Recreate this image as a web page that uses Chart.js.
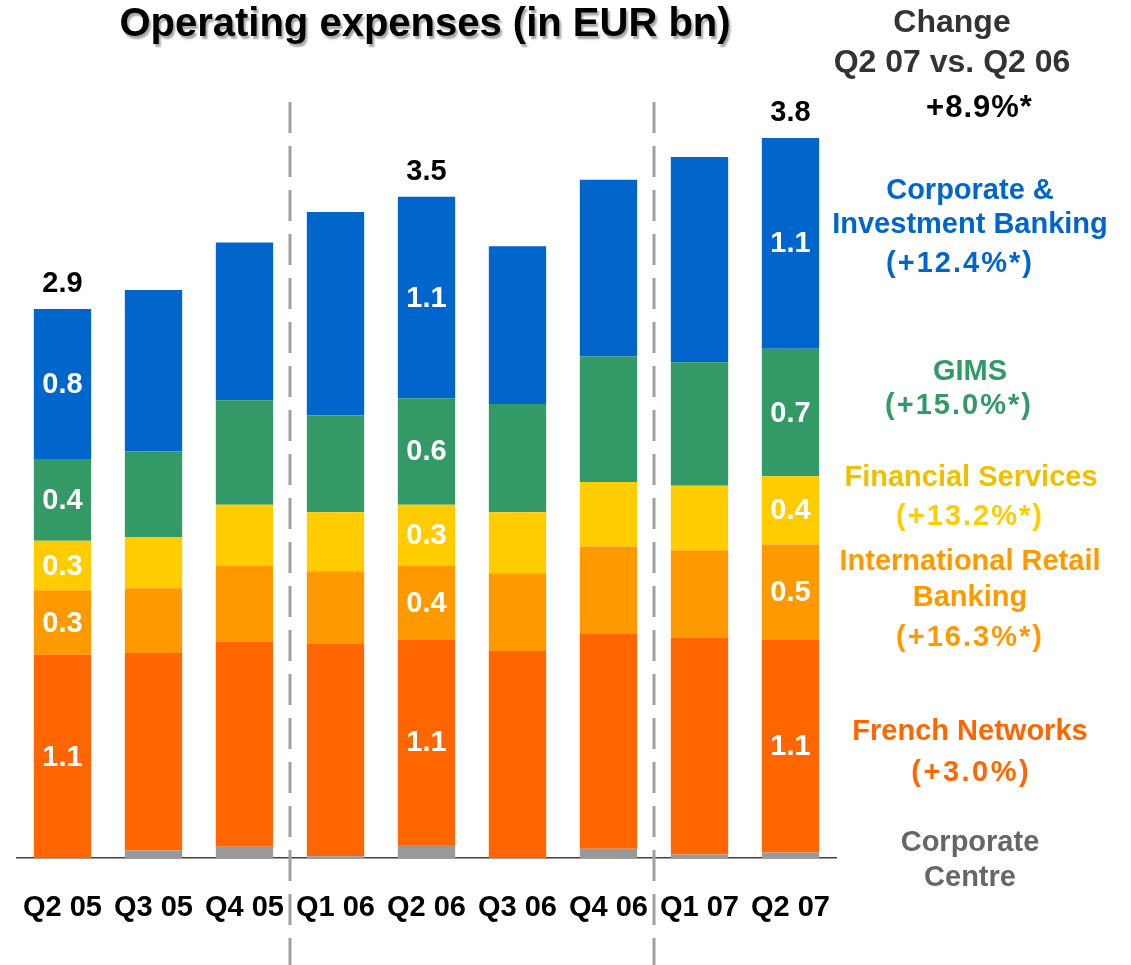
<!DOCTYPE html>
<html>
<head>
<meta charset="utf-8">
<script src="https://cdn.jsdelivr.net/npm/chart.js@4.4.1/dist/chart.umd.min.js"></script>
<style>
  body { margin: 0; background: #fff; }
  #wrap { width: 1131px; height: 965px; position: relative; }
</style>
</head>
<body>
<div id="wrap"><canvas id="opex" width="1131" height="965"></canvas></div>
<script>
// quarters on the x axis
const quarters = ["Q2 05", "Q3 05", "Q4 05", "Q1 06", "Q2 06", "Q3 06", "Q4 06", "Q1 07", "Q2 07"];

// Operating expenses by business line, EUR bn (stacked bottom to top)
const corporateCentre = [0.00, 0.04, 0.06, 0.01, 0.07, 0.00, 0.05, 0.02, 0.03];
const frenchNetworks = [1.07, 1.04, 1.08, 1.12, 1.08, 1.09, 1.13, 1.14, 1.12];
const intlRetail = [0.34, 0.34, 0.40, 0.38, 0.39, 0.41, 0.46, 0.46, 0.50];
const finServices = [0.26, 0.27, 0.32, 0.31, 0.32, 0.32, 0.34, 0.34, 0.36];
const gims = [0.43, 0.45, 0.55, 0.51, 0.56, 0.57, 0.66, 0.65, 0.67];
const cib = [0.79, 0.85, 0.83, 1.07, 1.06, 0.83, 0.93, 1.08, 1.11];

// quarters that get value labels
const labelled = ["Q2 05", "Q2 06", "Q2 07"];
// dashed separators sit between these positions (year breaks)
const separators = [2.5, 6.5];

// right hand side legend with change Q2 07 vs Q2 06
// size = font px, sp = letter spacing px
const sideNotes = [
  { text: "Change", color: "#333333", x: 952, y: 22, size: 32, sp: 0 },
  { text: "Q2 07 vs. Q2 06", color: "#333333", x: 952, y: 62, size: 32, sp: 0 },
  { text: "+8.9%*", color: "#000000", x: 979, y: 107, size: 31, sp: 1 },
  { text: "Corporate &", color: "#0066cc", x: 970, y: 190, size: 29, sp: 0 },
  { text: "Investment Banking", color: "#0066cc", x: 970, y: 224, size: 29, sp: 0 },
  { text: "(+12.4%*)", color: "#0066cc", x: 959, y: 263, size: 29, sp: 2 },
  { text: "GIMS", color: "#339966", x: 970, y: 371, size: 29, sp: 0 },
  { text: "(+15.0%*)", color: "#339966", x: 958, y: 405, size: 29, sp: 2 },
  { text: "Financial Services", color: "#f0c000", x: 971, y: 477, size: 29, sp: 0 },
  { text: "(+13.2%*)", color: "#ffcc00", x: 969, y: 516, size: 29, sp: 2 },
  { text: "International Retail", color: "#ff9900", x: 970, y: 561, size: 29, sp: 0 },
  { text: "Banking", color: "#ff9900", x: 970, y: 597, size: 29, sp: 0 },
  { text: "(+16.3%*)", color: "#ff9900", x: 969, y: 637, size: 29, sp: 2 },
  { text: "French Networks", color: "#ff6600", x: 970, y: 731, size: 29, sp: 0 },
  { text: "(+3.0%)", color: "#ff6600", x: 970, y: 772, size: 29, sp: 2.5 },
  { text: "Corporate", color: "#666666", x: 970, y: 842, size: 29, sp: 0 },
  { text: "Centre", color: "#666666", x: 970, y: 877, size: 29, sp: 0 },
];

const FONT = "'Liberation Sans', Arial, sans-serif";

const decorPlugin = {
  id: "decor",
  afterDatasetsDraw(chart) {
    const ctx = chart.ctx;
    const x = chart.scales.x;

    // dashed year separators
    ctx.save();
    ctx.strokeStyle = "#a0a0a0";
    ctx.lineWidth = 3;
    ctx.setLineDash([31, 13]);
    separators.forEach((s) => {
      const px = Math.round(x.getPixelForValue(s));
      ctx.beginPath();
      ctx.moveTo(px, 102);
      ctx.lineTo(px, 965);
      ctx.stroke();
    });
    ctx.restore();

    // values inside the segments
    ctx.save();
    ctx.font = "bold 29px " + FONT;
    ctx.textAlign = "center";
    ctx.textBaseline = "middle";
    ctx.fillStyle = "#ffffff";
    chart.data.datasets.forEach((ds, d) => {
      if (d === 0) return; // no labels for Corporate Centre
      const meta = chart.getDatasetMeta(d);
      labelled.forEach((q) => {
        const i = quarters.indexOf(q);
        const bar = meta.data[i];
        ctx.fillText(ds.data[i].toFixed(1), bar.x, (bar.y + bar.base) / 2 + 1);
      });
    });

    // totals above the bars
    ctx.fillStyle = "#000000";
    const top = chart.getDatasetMeta(chart.data.datasets.length - 1);
    labelled.forEach((q) => {
      const i = quarters.indexOf(q);
      const total = chart.data.datasets.reduce((a, ds) => a + ds.data[i], 0);
      ctx.fillText(total.toFixed(1), top.data[i].x, top.data[i].y - 25);
    });
    ctx.restore();
  },
  afterDraw(chart) {
    const ctx = chart.ctx;
    ctx.save();
    ctx.textAlign = "center";
    ctx.textBaseline = "middle";

    // title with drop shadow
    ctx.font = "bold 40px " + FONT;
    ctx.shadowColor = "rgba(0,0,0,0.35)";
    ctx.shadowOffsetX = 2;
    ctx.shadowOffsetY = 3;
    ctx.shadowBlur = 2;
    ctx.fillStyle = "#000000";
    ctx.fillText("Operating expenses (in EUR bn)", 425, 25);
    ctx.shadowColor = "transparent";

    sideNotes.forEach((n) => {
      ctx.font = "bold " + n.size + "px " + FONT;
      ctx.letterSpacing = n.sp + "px";
      ctx.fillStyle = n.color;
      ctx.fillText(n.text, n.x + n.sp / 2, n.y + 1);
    });
    ctx.restore();
  },
};

const bar = (label, data, color) => ({
  label: label,
  data: data,
  backgroundColor: color,
  borderWidth: 0,
  categoryPercentage: 1,
  barPercentage: 0.63,
});

new Chart(document.getElementById("opex"), {
  type: "bar",
  plugins: [decorPlugin],
  data: {
    labels: quarters,
    datasets: [
      bar("Corporate Centre", corporateCentre, "#999999"),
      bar("French Networks", frenchNetworks, "#ff6600"),
      bar("International Retail Banking", intlRetail, "#ff9900"),
      bar("Financial Services", finServices, "#ffcc00"),
      bar("GIMS", gims, "#339966"),
      bar("Corporate & Investment Banking", cib, "#0066cc"),
    ],
  },
  options: {
    responsive: false,
    animation: false,
    layout: { padding: { left: 17, right: 295, top: 98, bottom: 8 } },
    plugins: {
      legend: { display: false },
      tooltip: { enabled: false },
      title: { display: false },
    },
    scales: {
      x: {
        stacked: true,
        grid: { display: false, drawTicks: false },
        border: { display: true, color: "#404040", width: 1.5 },
        afterFit: (s) => { s.paddingLeft = 0; s.paddingRight = 0; },
        ticks: {
          color: "#000000",
          padding: 32,
          maxRotation: 0,
          autoSkip: false,
          font: { family: FONT, size: 29, weight: "bold" },
        },
      },
      y: {
        stacked: true,
        display: false,
        min: 0,
        max: 4,
      },
    },
  },
});
</script>
</body>
</html>
